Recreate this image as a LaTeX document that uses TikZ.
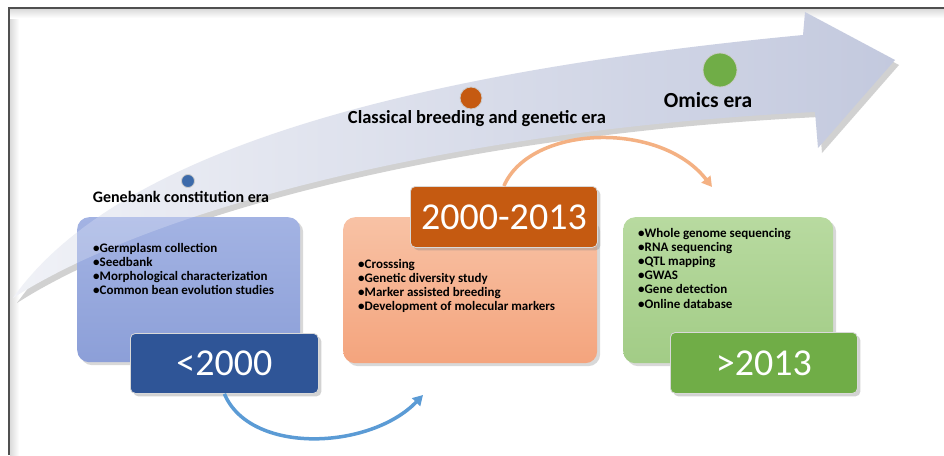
\documentclass[tikz,border=0pt]{standalone}
\usepackage{fontspec}
\setmainfont{Carlito}
\usetikzlibrary{arrows.meta,shadows}
\definecolor{bandc}{HTML}{C3C9DE}
\definecolor{blueA}{HTML}{A3B3E3}
\definecolor{blueB}{HTML}{8C9FD8}
\definecolor{blueY}{HTML}{2F5597}
\definecolor{orA}{HTML}{F8C2A5}
\definecolor{orB}{HTML}{F4A47D}
\definecolor{orY}{HTML}{C55A11}
\definecolor{grA}{HTML}{B8DAA0}
\definecolor{grB}{HTML}{A2CC86}
\definecolor{grY}{HTML}{70AD47}
\definecolor{arrB}{HTML}{5B9BD5}
\definecolor{arrO}{HTML}{F4B183}
\definecolor{frame}{HTML}{505050}
\def\mybandpath{(13,298) .. controls (100,175) and (330,80) .. (803,35) -- (805,12) -- (895,60) -- (818,148) -- (815,112) .. controls (450,130) and (150,210) .. cycle}
\tikzset{
  cbox/.style={rounded corners=12pt, anchor=north west, inner sep=0pt,
    drop shadow={opacity=0.3, shadow xshift=3pt, shadow yshift=-3pt}},
  ybox/.style={rounded corners=5pt, anchor=north west, inner sep=0pt,
    draw=white!85!black, line width=0.8pt, text=white,
    font=\fontsize{38}{40}\selectfont,
    drop shadow={opacity=0.35, shadow xshift=3pt, shadow yshift=-3pt}},
  bul/.style={anchor=base west, inner sep=0pt, font=\bfseries\fontsize{13}{14}\selectfont},
  era/.style={font=\bfseries, inner sep=0pt},
  curv/.style={line width=3.5pt, -{Triangle[length=10pt,width=11pt]}},
  dot/.style={circle, inner sep=0pt, draw=white!80!black, line width=0.8pt}
}
\begin{document}
\begin{tikzpicture}[x=1pt,y=-1pt]
\useasboundingbox (0,0) rectangle (944,455);
\fill[white] (0,0) rectangle (944,455);
% frame with soft inner shade
\shade[left color=black!14, right color=white] (10,9) rectangle (19,455);
\shade[top color=black!14, bottom color=white] (10,9) rectangle (944,18);
\draw[frame, line width=1.5pt] (9,455) -- (9,8) -- (944,8);
% big curved arrow
\fill[black, opacity=0.18] [shift={(4,5)}] \mybandpath;
\shade[left color=bandc!25, middle color=bandc!95, right color=bandc] \mybandpath;
% era markers and labels
\node[dot, fill=blueY!70!arrB, minimum size=13pt] (d1) at (188,181) {};
\node[dot, fill=orY, minimum size=22pt] (d2) at (471,98) {};
\node[dot, fill=grY, minimum size=34pt] (d3) at (720,70) {};
\node[era, font=\bfseries\fontsize{16}{18}\selectfont] (e1) at (181,197) {Genebank constitution era};
\node[era, font=\bfseries\fontsize{18.5}{20}\selectfont] (e2) at (477,119) {Classical breeding and genetic era};
\node[era, font=\bfseries\fontsize{21.5}{24}\selectfont] (e3) at (708,100) {Omics era};
% content boxes
\node[cbox, top color=blueA, bottom color=blueB, minimum width=223pt, minimum height=145pt] (c1) at (77,217) {};
\begin{scope}
  \clip[rounded corners=12pt] (77,217) rectangle (300,362);
  \fill[white, opacity=0.22] \mybandpath;
\end{scope}
\node[cbox, top color=orA, bottom color=orB, minimum width=254pt, minimum height=146pt] (c2) at (343,217) {};
\node[cbox, top color=grA, bottom color=grB, minimum width=210pt, minimum height=146pt] (c3) at (623,217) {};
% bullet lists
\foreach \t [count=\i] in {Germplasm collection, Seedbank, Morphological characterization, Common bean evolution studies}
  \node[bul, name=ba\i] at (93,{252+14*(\i-1)}) {•\t};
\foreach \t [count=\i] in {Crosssing, Genetic diversity study, Marker assisted breeding, Development of molecular markers}
  \node[bul, name=bb\i] at (358,{268+14*(\i-1)}) {•\t};
\foreach \t [count=\i] in {Whole genome sequencing, RNA sequencing, QTL mapping, GWAS, Gene detection, Online database}
  \node[bul, name=bc\i] at (638,{237+14.2*(\i-1)}) {•\t};
% year boxes
\node[ybox, fill=blueY, minimum width=188pt, minimum height=60pt] (y1) at (130,333) {<2000};
\node[ybox, fill=orY, minimum width=187pt, minimum height=61pt] (y2) at (410,186) {2000-2013};
\node[ybox, fill=grY, minimum width=187pt, minimum height=61pt] (y3) at (670,332) {>2013};
% curved arrows
\coordinate (a1end) at (423,395);
\coordinate (a2end) at (712,187);
\draw[curv, arrB] (y1.south) .. controls (250,455) and (370,450) .. (a1end);
\draw[curv, arrO] (y2.north) .. controls (530,125) and (660,120) .. (a2end);
\end{tikzpicture}
\end{document}
